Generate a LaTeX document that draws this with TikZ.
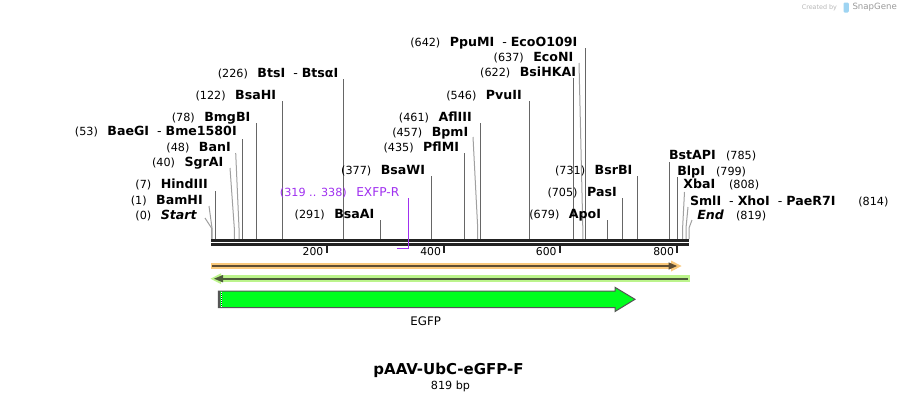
\documentclass[tikz,border=0pt]{standalone}
\usepackage{fontspec}
\setmainfont{DejaVu Sans}
\definecolor{cutgray}{HTML}{666666}
\definecolor{slantgray}{HTML}{A0A0A0}
\definecolor{bb}{HTML}{222222}
\definecolor{orangeband}{HTML}{FAC97C}
\definecolor{orangeline}{HTML}{5E4D33}
\definecolor{greenband}{HTML}{BCF48C}
\definecolor{greenline}{HTML}{4C5A3A}
\definecolor{egfp}{HTML}{00FF1E}
\definecolor{egfpedge}{HTML}{555555}
\definecolor{primer}{HTML}{A030F0}
\definecolor{wm}{HTML}{B8B8B8}
\definecolor{wmdark}{HTML}{9A9A9A}
\definecolor{wmblue}{HTML}{9ED4F2}
\newcommand{\numf}{\fontsize{11.2}{13}\selectfont\mdseries}
\newcommand{\namef}{\fontsize{12.6}{14}\selectfont\bfseries}
\newcommand{\sepd}{\hspace{8pt}{\mdseries -}\hspace{4pt}}
\newcommand{\LeftLab}[5]{\node[lab, anchor=base east] (#1) at (#2,#3+4.5) {{\numf (#4)}\hspace{9.5pt}{\namef #5}};}
\newcommand{\RightLab}[6]{\node[lab, anchor=base west] (#1) at (#2,#3+4.5) {\namef #4};
  \node[lab, anchor=base west] (#1n) at (#5,#3+4.5) {\numf (#6)};}
\begin{document}
\begin{tikzpicture}[x=1pt, y=-1pt, lab/.style={inner sep=0pt, outer sep=0pt}]
\useasboundingbox (0,0) rectangle (901,402);
\fill[white] (0,0) rectangle (901,402);

% watermark
\node[lab, anchor=east, text=wm] (wm1) at (837,7.5) {\fontsize{6.4}{7}\selectfont Created by};
\fill[wmblue, rounded corners=1.2pt] (843.5,2.5) rectangle (848.8,12.5);
\node[lab, anchor=west, text=wmdark] (wm2) at (852.5,7.5) {\fontsize{8.6}{10}\selectfont SnapGene};

% cut-site lines
\foreach \x/\t [count=\i] in {215.3/191, 242.3/139, 256.5/123, 282.2/101, 343/79, 380.8/220, 431/176, 464.9/153, 480/123, 529.6/101, 573.8/78, 585.7/48, 607/220, 622.5/198, 637.6/176, 669/162, 677/177}{
  \coordinate (vt\i) at (\x,\t);
  \coordinate (vb\i) at (\x,239);
  \draw[cutgray, line width=1pt] (vt\i) -- (vb\i);
}
\foreach \x/\t/\b [count=\i] in {205/218/211.5, 209/206/212, 230/168/234.3, 235.7/153/239, 473/137/477.7, 579/63/582.8, 684.5/192/682.6, 688/207/686, 692/220/689}{
  \coordinate (st\i) at (\x,\t);
  \coordinate (sm\i) at (\b,228);
  \coordinate (sb\i) at (\b,239);
  \draw[slantgray, line width=1pt] (st\i) -- (sm\i) -- (sb\i);
}

% backbone
\draw[bb, line width=2.7pt] (211.3,240.3) -- (689.3,240.3);
\draw[bb, line width=2.7pt] (211.3,244.5) -- (689.3,244.5);

% ticks
\foreach \p/\x in {200/326.7,400/444.3,600/560,800/677.3}{
  \draw[bb, line width=1.8pt] (\x,245.5) -- (\x,252.7);
  \node[lab, anchor=base east] (tk\p) at (\x-3.4,255.9) {\fontsize{10.8}{12}\selectfont \p};
}

% primer EXFP-R
\draw[primer, line width=1.6pt] (408.3,198) -- (408.3,248.6) -- (397.3,248.6);
\node[lab, anchor=base east, text=primer] (lPrimer) at (399.3,196.2) {{\numf (319 .. 338)}\hspace{9.4pt}{\fontsize{12.2}{14}\selectfont EXFP-R}};

% labels (left side)
\LeftLab{lStart}{196.7}{215}{0}{\itshape Start}
\LeftLab{lBamHI}{202.7}{200}{1}{BamHI}
\LeftLab{lHindIII}{207.7}{184.3}{7}{HindIII}
\LeftLab{lSgrAI}{223.3}{162}{40}{SgrAI}
\LeftLab{lBanI}{230.7}{146.7}{48}{BanI}
\LeftLab{lBaeGI}{236.7}{131}{53}{BaeGI\sepd Bme1580I}
\LeftLab{lBmgBI}{250.3}{117.3}{78}{BmgBI}
\LeftLab{lBsaHI}{276}{95}{122}{BsaHI}
\LeftLab{lBtsI}{338.3}{72.7}{226}{BtsI\sepd BtsαI}
\LeftLab{lBsaAI}{374.3}{214}{291}{BsaAI}
\LeftLab{lBsaWI}{425}{170}{377}{BsaWI}
\LeftLab{lPflMI}{459}{146.7}{435}{PflMI}
\LeftLab{lBpmI}{468.3}{131.7}{457}{BpmI}
\LeftLab{lAflIII}{471.7}{117.3}{461}{AflIII}
\LeftLab{lPvuII}{521.7}{95}{546}{PvuII}
\LeftLab{lBsiHKAI}{576}{72.3}{622}{BsiHKAI}
\LeftLab{lEcoNI}{573.3}{57.3}{637}{EcoNI}
\LeftLab{lPpuMI}{577.3}{42.3}{642}{PpuMI\sepd EcoO109I}
\LeftLab{lApoI}{601}{214}{679}{ApoI}
\LeftLab{lPasI}{616.7}{191.7}{705}{PasI}
\LeftLab{lBsrBI}{632.3}{170}{731}{BsrBI}
% labels (right side)
\RightLab{lBstAPI}{669}{155}{BstAPI}{726}{785}
\RightLab{lBlpI}{677.3}{171}{BlpI}{716}{799}
\RightLab{lXbaI}{683.3}{184.3}{XbaI}{729}{808}
\RightLab{lSmlI}{690}{201}{SmlI\sepd XhoI\sepd PaeR7I}{858.3}{814}
\RightLab{lEnd}{697.3}{215}{\itshape End}{736}{819}

% forward feature (orange)
\draw[orangeband, line width=6pt] (211,266) -- (673,266);
\fill[orangeband] (671,260.5) -- (681.5,266) -- (671,271.5) -- cycle;
\draw[orangeline, line width=2pt] (212,266) -- (670,266);
\fill[orangeline] (668.5,262.3) -- (677,266) -- (668.5,269.7) -- cycle;

% reverse feature (green)
\draw[greenband, line width=7pt] (219,278.7) -- (690,278.7);
\fill[greenband] (221,273.3) -- (210.5,278.7) -- (221,284.1) -- cycle;
\draw[greenline, line width=2.2pt] (222,278.7) -- (688,278.7);
\fill[greenline] (223,275) -- (214,278.7) -- (223,282.4) -- cycle;

% EGFP
\draw[egfpedge, line width=1pt, fill=egfp] (218.3,291) -- (615,291) -- (615,287.3) -- (635,299.3) -- (615,311.5) -- (615,307.7) -- (218.3,307.7) -- cycle;
\draw[egfpedge, line width=1.6pt] (218.8,291) -- (218.8,307.7);
\draw[bb, line width=1pt] (221,291.5) -- (221,307.2);
\draw[white, line width=1pt, dash pattern=on 1pt off 1pt] (221,291.5) -- (221,307.2);
\node[lab, anchor=base] (lEGFP) at (425.7,325) {\fontsize{11.8}{13}\selectfont EGFP};

% title
\node[lab, anchor=base] (title) at (448.5,374.3) {\fontsize{15}{17}\selectfont\bfseries pAAV-UbC-eGFP-F};
\node[lab, anchor=base] (bp) at (450.5,389) {\fontsize{11.2}{13}\selectfont 819 bp};
\end{tikzpicture}
\end{document}
